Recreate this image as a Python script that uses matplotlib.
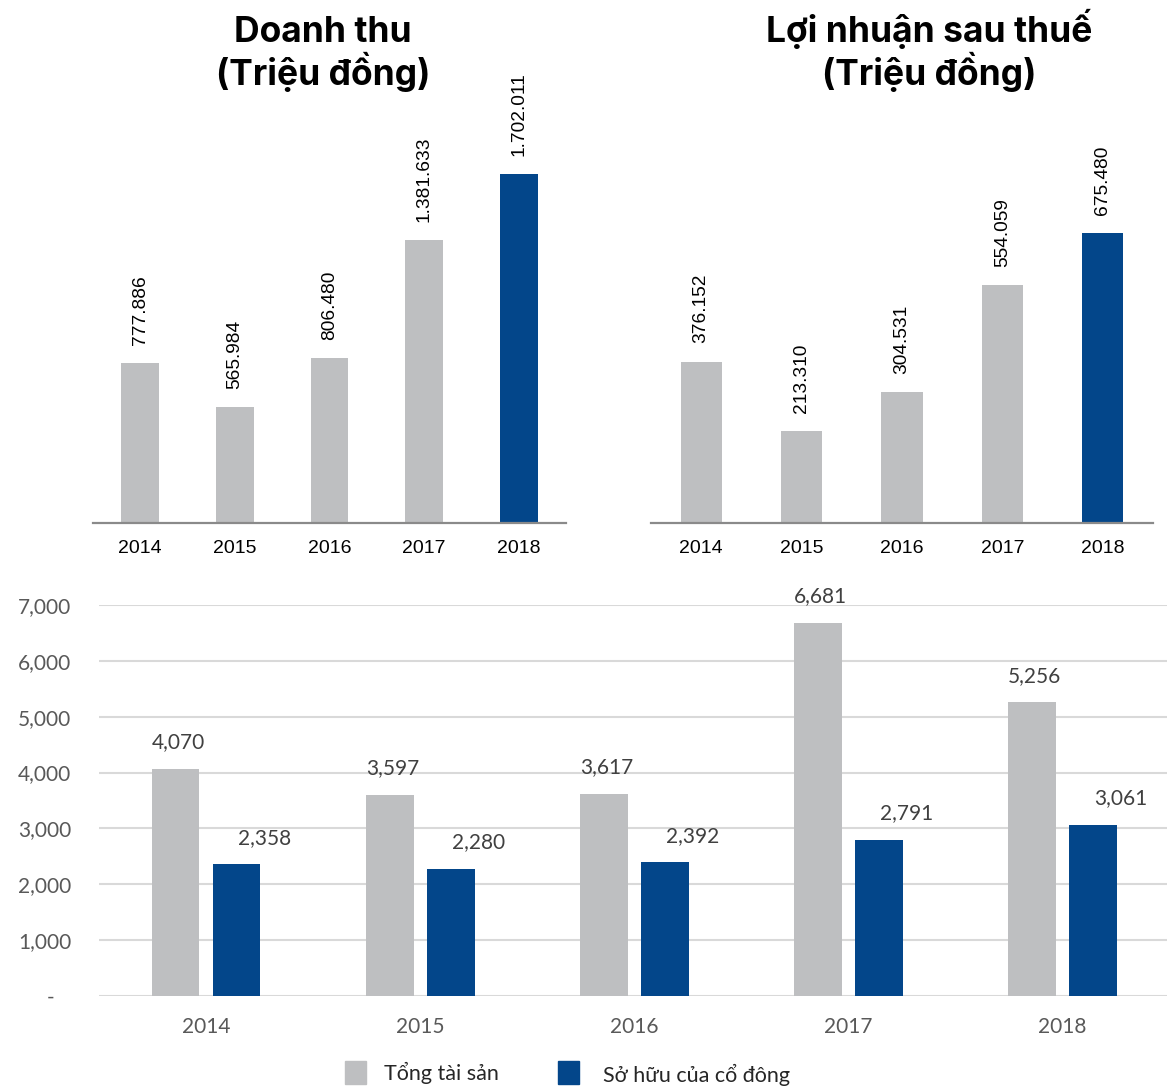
import matplotlib
matplotlib.use("Agg")
import matplotlib.pyplot as plt
from matplotlib.patches import Rectangle
import numpy as np

years = ["2014", "2015", "2016", "2017", "2018"]
doanhThu = [777886, 565984, 806480, 1381633, 1702011]
loiNhuan = [376152, 213310, 304531, 554059, 675480]
tongTaiSan = [4070, 3597, 3617, 6681, 5256]
soHuuCoDong = [2358, 2280, 2392, 2791, 3061]
yTicks = [0, 1000, 2000, 3000, 4000, 5000, 6000, 7000]
yTickLabels = ["-   ", "1,000", "2,000", "3,000", "4,000", "5,000", "6,000", "7,000"]
legendLabels = ["Tổng tài sản", "Sở hữu của cổ đông"]

GRAY = "#bebfc1"
BLUE = "#03468a"
W, H = 1167, 1087

fig = plt.figure(figsize=(W / 100, H / 100), dpi=100)


def box(l, r, b, t):
    # pixel box -> figure fraction
    return [l / W, 1 - b / H, (r - l) / W, (b - t) / H]


def dotfmt(v):
    return "{:,}".format(v).replace(",", ".")


def topChart(rect, values, ymax, width, titleLines, titleX):
    ax = fig.add_axes(rect)
    x = np.arange(len(years))
    colors = [GRAY] * (len(values) - 1) + [BLUE]
    ax.bar(x, values, width=width, color=colors)
    for xi, v in zip(x, values):
        ax.annotate(dotfmt(v), (xi, v), xytext=(0, 13), textcoords="offset points",
                    rotation=90, ha="center", va="bottom", fontsize=13.8,
                    family="Liberation Sans", color="#000000")
    ax.set_xlim(-0.5, 4.5)
    ax.set_ylim(0, ymax)
    ax.set_xticks(x)
    ax.set_xticklabels(years, fontsize=14, family="Liberation Sans")
    ax.tick_params(axis="x", length=0, pad=12)
    ax.set_yticks([])
    for s in ["top", "left", "right"]:
        ax.spines[s].set_visible(False)
    ax.spines["bottom"].set_color("#8a8a8a")
    ax.spines["bottom"].set_linewidth(1.6)
    for line, base in zip(titleLines, [42, 85]):
        fig.text(titleX / W, 1 - base / H, line, ha="center", va="baseline", fontsize=25.5,
                 fontweight="bold", family="Inter")
    return ax


topChart(box(93, 566, 523, 100), doanhThu, 423 / 0.00020505, 0.40,
         ["Doanh thu", "(Triệu đồng)"], 323)
topChart(box(651, 1153, 523, 100), loiNhuan, 423 / 0.0004293, 0.41,
         ["Lợi nhuận sau thuế", "(Triệu đồng)"], 929)

# bottom chart
fnt = ["Lato", "Open Sans", "DejaVu Sans"]
ax = fig.add_axes(box(99, 1167, 996, 605))
x = np.arange(len(years))
off = 0.1425
bw = 0.224
ax.bar(x - off, tongTaiSan, width=bw, color=GRAY, zorder=3)
ax.bar(x + off, soHuuCoDong, width=bw, color=BLUE, zorder=3)
for xi, v in zip(x, tongTaiSan):
    ax.annotate("{:,}".format(v), (xi - off, v), xytext=(2, 12), textcoords="offset points",
                ha="center", va="bottom", fontsize=15, family=fnt, color="#404040")
for xi, v in zip(x, soHuuCoDong):
    ax.annotate("{:,}".format(v), (xi + off, v), xytext=(20, 12), textcoords="offset points",
                ha="center", va="bottom", fontsize=15, family=fnt, color="#404040")
ax.set_xlim(-0.5, 4.49)
ax.set_ylim(0, 7000)
ax.set_yticks(yTicks)
ax.set_yticklabels(yTickLabels, fontsize=15, family=fnt, color="#595959")
ax.set_xticks(x)
ax.set_xticklabels(years, fontsize=15, family=fnt, color="#595959")
ax.tick_params(axis="y", length=0, pad=20)
ax.tick_params(axis="x", length=0, pad=15)
ax.grid(axis="y", color="#d9d9d9", linewidth=1.5, zorder=0)
for s in ["top", "left", "right", "bottom"]:
    ax.spines[s].set_visible(False)

# legend drawn by hand (Excel places the two entries a bit unevenly)
for lab, col, sx, tx, base in zip(legendLabels, [GRAY, BLUE], [345, 558], [384, 603], [1080, 1082]):
    fig.patches.append(Rectangle((sx / W, 1 - 1084 / H), 21 / W, 23 / H, color=col,
                                 transform=fig.transFigure, figure=fig))
    fig.text(tx / W, 1 - base / H, lab, ha="left", va="baseline", fontsize=15.5,
             family=fnt, color="#262626")

fig.savefig("out.png", dpi=100)
